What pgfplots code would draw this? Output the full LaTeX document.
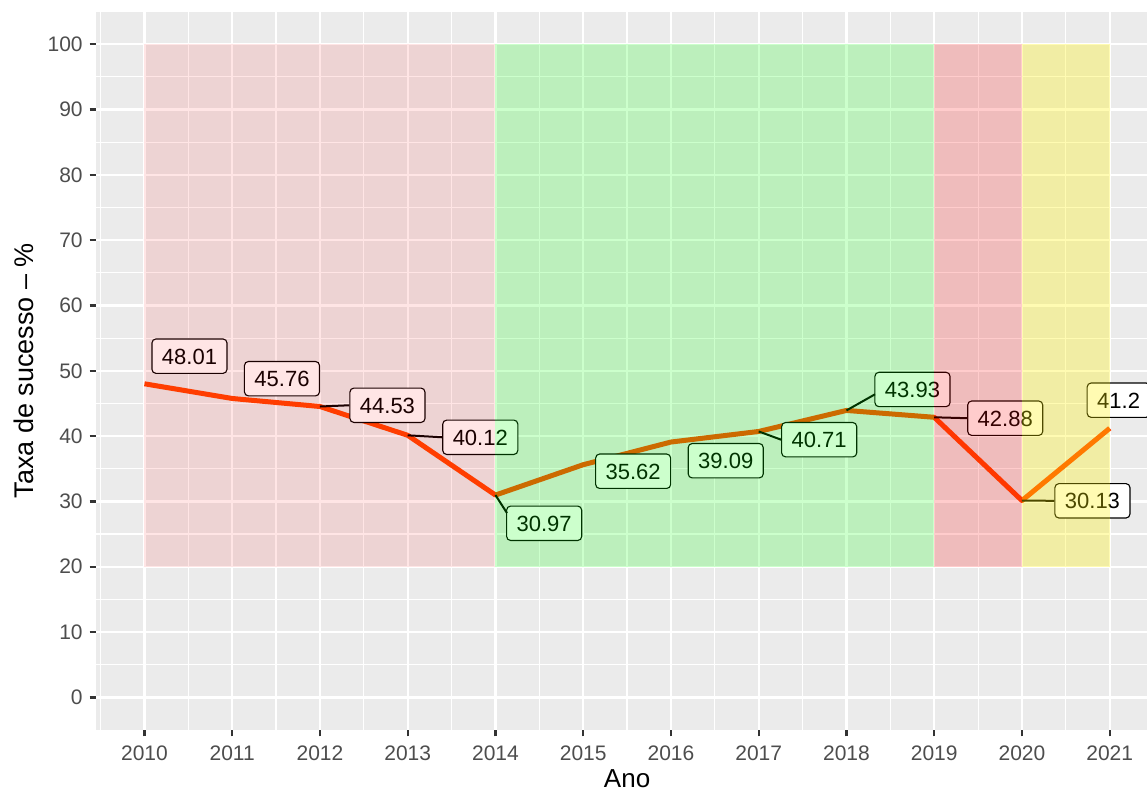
\documentclass[border=0pt]{standalone}
\usepackage{fontspec}
\setmainfont{Liberation Sans}
\usepackage{pgfplots}
\pgfplotsset{compat=1.18}
\definecolor{panelgrey}{RGB}{235,235,235}
\definecolor{grey30}{RGB}{77,77,77}
\definecolor{grey20}{RGB}{51,51,51}
\definecolor{orangered}{RGB}{255,69,0}
\tikzset{
  lbl/.style={draw=black, line width=0.55pt, fill=white, rounded corners=2pt,
    font=\fontsize{11}{13}\selectfont, inner xsep=5pt, inner ysep=4.6pt,
    text height=8pt, text depth=0pt},
  conn/.style={black, line width=1pt},
}
\begin{document}
\begin{tikzpicture}
\begin{axis}[
  set layers,
  scale only axis, width=530.9pt, height=359.2pt,
  at={(0,0)}, anchor=south west,
  xmin=2009.45, xmax=2021.55, ymin=-5, ymax=105,
  axis background/.style={fill=panelgrey},
  axis line style={draw=none},
  xtick={2010,2011,...,2021}, ytick={0,10,...,100},
  minor xtick={2009.5,2010.5,...,2021.5},
  minor ytick={5,15,...,95},
  grid=both,
  major grid style={white, line width=1.2pt},
  minor grid style={white, line width=0.6pt},
  tick align=outside, tick pos=left,
  major tick length=3.25pt, minor tick length=0pt,
  every tick/.style={grey20, line width=1.2pt},
  /pgf/number format/assume math mode=true,
  /pgf/number format/1000 sep={},
  tick label style={font=\fontsize{10.5}{12}\selectfont, text=grey30},
  xticklabel style={yshift=-1.2pt},
  xlabel={Ano}, ylabel={Taxa de sucesso – \%},
  every axis x label/.style={at={(axis description cs:0.5,0)}, anchor=base, yshift=-28.6pt, font=\fontsize{13}{15}\selectfont},
  every axis y label/.style={at={(axis description cs:0,0.5)}, xshift=-31.4pt, rotate=90, anchor=base, font=\fontsize{13.5}{15}\selectfont},
]
\addplot[orangered, line width=2.5pt, line join=round] coordinates {
 (2010,48.01) (2011,45.76) (2012,44.53) (2013,40.12) (2014,30.97) (2015,35.62)
 (2016,39.09) (2017,40.71) (2018,43.93) (2019,42.88) (2020,30.13) (2021,41.2)};

\node[lbl] (l1)  at (axis cs:2010.513,52.24) {48.01};
\node[lbl] (l2)  at (axis cs:2011.567,48.79) {45.76};
\node[lbl] (l3)  at (axis cs:2012.769,44.72) {44.53};
\node[lbl] (l4)  at (axis cs:2013.827,39.82) {40.12};
\node[lbl] (l5)  at (axis cs:2014.555,26.65) {30.97};
\node[lbl] (l6)  at (axis cs:2015.569,34.62) {35.62};
\node[lbl] (l7)  at (axis cs:2016.624,36.23) {39.09};
\node[lbl] (l8)  at (axis cs:2017.689,39.45) {40.71};
\node[lbl] (l9)  at (axis cs:2018.752,47.14) {43.93};
\node[lbl] (l10) at (axis cs:2019.809,42.74) {42.88};
\node[lbl] (l11) at (axis cs:2020.803,30.09) {30.13};
\node[lbl] (l12) at (axis cs:2021.101,45.50) {41.2};

\draw[conn] (axis cs:2012,44.53) -- (l3.west);
\draw[conn] (axis cs:2013,40.12) -- (l4.west);
\draw[conn] (axis cs:2014,30.97) -- (axis cs:2014.131,28.22);
\draw[conn] (axis cs:2017,40.71) -- (l8.west);
\draw[conn] (axis cs:2018,43.93) -- (axis cs:2018.325,46.40);
\draw[conn] (axis cs:2019,42.88) -- (l10.west);
\draw[conn] (axis cs:2020,30.13) -- (l11.west);

\addplot[draw=none, fill=red, fill opacity=0.1, on layer=axis foreground] coordinates {(2010,20) (2014,20) (2014,100) (2010,100)} -- cycle;
\addplot[draw=none, fill=green, fill opacity=0.2, on layer=axis foreground] coordinates {(2014,20) (2019,20) (2019,100) (2014,100)} -- cycle;
\addplot[draw=none, fill=red, fill opacity=0.2, on layer=axis foreground] coordinates {(2019,20) (2020,20) (2020,100) (2019,100)} -- cycle;
\addplot[draw=none, fill=yellow, fill opacity=0.3, on layer=axis foreground] coordinates {(2020,20) (2021,20) (2021,100) (2020,100)} -- cycle;
\end{axis}
\pgfresetboundingbox
\useasboundingbox (-48.1pt,-30.5pt) rectangle (525.4pt,365pt);
\end{tikzpicture}
\end{document}
